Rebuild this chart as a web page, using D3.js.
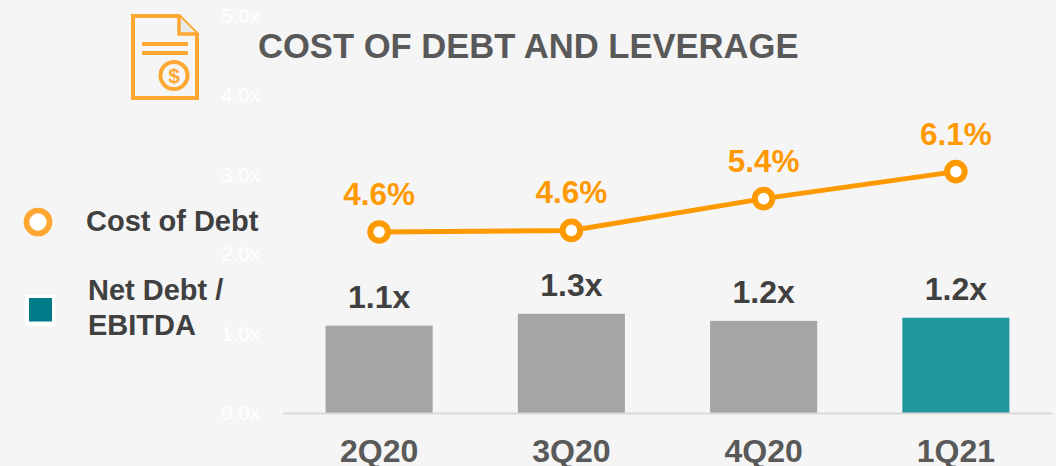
<!DOCTYPE html>
<html>
<head>
<meta charset="utf-8">
<script src="https://cdn.jsdelivr.net/npm/d3@7"></script>
<style>
  html, body { margin: 0; padding: 0; background: #f5f5f5; }
  svg { display: block; }
  text { font-family: "Liberation Sans", Arial, sans-serif; }
</style>
</head>
<body>
<svg id="chart" width="1056" height="466"></svg>
<script>
// values
var quarters = ['2Q20', '3Q20', '4Q20', '1Q21'];
var leverage = [1.1, 1.25, 1.16, 1.2];
var leverageLabels = ['1.1x', '1.3x', '1.2x', '1.2x'];
var costOfDebt = [4.56, 4.6, 5.4, 6.08];
var costLabels = ['4.6%', '4.6%', '5.4%', '6.1%'];
var leverageTicks = [0, 1, 2, 3, 4, 5];

var svg = d3.select('#chart');
var orange = '#fe9900', iconOrange = '#ffa733', teal = '#23979e', grey = '#a5a5a5', dark = '#595959';

var x = d3.scaleBand().domain(quarters).range([283, 1052]).paddingInner(0.443).paddingOuter(0.2215);
var y = d3.scaleLinear().domain([0, 5]).range([413, 16]);
var yCost = d3.scaleLinear().domain([0, 10]).range([413, 16]);
var cx = function (d) { return x(d) + x.bandwidth() / 2; };

// left axis, white on light grey like the original
var yAxis = d3.axisLeft(y).tickValues(leverageTicks).tickSize(0).tickPadding(0)
    .tickFormat(function (d) { return d.toFixed(1) + 'x'; });
var yg = svg.append('g').attr('transform', 'translate(260,0)').call(yAxis);
yg.select('.domain').remove();
yg.selectAll('text').attr('fill', '#ffffff').attr('font-size', 20.5);

// bars
svg.selectAll('rect.bar').data(quarters).enter().append('rect')
    .attr('class', 'bar')
    .attr('x', function (d) { return x(d); })
    .attr('y', function (d, i) { return y(leverage[i]); })
    .attr('width', x.bandwidth())
    .attr('height', function (d, i) { return y(0) - y(leverage[i]); })
    .attr('fill', function (d, i) { return i === 3 ? teal : grey; });

// baseline
svg.append('line').attr('x1', 283).attr('x2', 1052).attr('y1', 413.5).attr('y2', 413.5)
    .attr('stroke', '#d9d9d9').attr('stroke-width', 2);

// category labels
var xAxis = d3.axisBottom(x).tickSize(0).tickPadding(0);
var xg = svg.append('g').attr('transform', 'translate(0,435)').call(xAxis);
xg.select('.domain').remove();
xg.selectAll('text').attr('fill', dark).attr('font-size', 32).attr('font-weight', 'bold').attr('dy', 0).attr('y', 27);

// bar labels
svg.selectAll('text.barlabel').data(quarters).enter().append('text')
    .attr('class', 'barlabel')
    .attr('x', cx)
    .attr('y', function (d, i) { return y(leverage[i]) - 18; })
    .attr('text-anchor', 'middle')
    .attr('font-size', 32).attr('font-weight', 'bold').attr('fill', '#404040')
    .text(function (d, i) { return leverageLabels[i]; });

// cost of debt line
var line = d3.line().x(cx).y(function (d, i) { return yCost(costOfDebt[i]); });
svg.append('path').datum(quarters).attr('d', line)
    .attr('fill', 'none').attr('stroke', orange).attr('stroke-width', 5);
svg.selectAll('circle.pt').data(quarters).enter().append('circle')
    .attr('class', 'pt')
    .attr('cx', cx)
    .attr('cy', function (d, i) { return yCost(costOfDebt[i]); })
    .attr('r', 8.8)
    .attr('fill', '#fff').attr('stroke', orange).attr('stroke-width', 6);
svg.selectAll('text.costlabel').data(quarters).enter().append('text')
    .attr('class', 'costlabel')
    .attr('x', cx)
    .attr('y', function (d, i) { return yCost(costOfDebt[i]) - 27; })
    .attr('text-anchor', 'middle')
    .attr('font-size', 31.5).attr('font-weight', 'bold').attr('fill', orange)
    .text(function (d, i) { return costLabels[i]; });

// title
svg.append('text').attr('x', 258).attr('y', 57.5)
    .attr('font-size', 34.6).attr('font-weight', 'bold').attr('fill', dark)
    .text('COST OF DEBT AND LEVERAGE');

// legend
svg.append('circle').attr('cx', 38).attr('cy', 222).attr('r', 11.5)
    .attr('fill', '#fff').attr('stroke', iconOrange).attr('stroke-width', 5.7);
svg.append('rect').attr('x', 25).attr('y', 295).attr('width', 30.5).attr('height', 31).attr('fill', '#fff');
svg.append('rect').attr('x', 29).attr('y', 298).attr('width', 23).attr('height', 23.5).attr('fill', '#007b87');
svg.append('text').attr('x', 86).attr('y', 231).attr('font-size', 29).attr('font-weight', 'bold').attr('fill', '#404040').text('Cost of Debt');
svg.append('text').attr('x', 88).attr('y', 300).attr('font-size', 29).attr('font-weight', 'bold').attr('fill', '#404040').text('Net Debt /');
svg.append('text').attr('x', 88).attr('y', 335).attr('font-size', 29).attr('font-weight', 'bold').attr('fill', '#404040').text('EBITDA');

// document icon
var icon = svg.append('g').attr('fill', 'none').attr('stroke', iconOrange).attr('stroke-width', 4);
icon.append('path').attr('d', 'M133 16H179L197 34V98H133Z');
icon.append('path').attr('d', 'M179 16V34H197').attr('fill', '#e9e9e9').attr('stroke-width', 3.5);
icon.append('line').attr('x1', 142).attr('x2', 188).attr('y1', 44).attr('y2', 44);
icon.append('line').attr('x1', 142).attr('x2', 188).attr('y1', 53).attr('y2', 53);
icon.append('circle').attr('cx', 174).attr('cy', 75.5).attr('r', 13.5);
svg.append('text').attr('x', 174).attr('y', 83).attr('text-anchor', 'middle')
    .attr('font-size', 21).attr('font-weight', 'bold').attr('fill', iconOrange).text('$');
</script>
</body>
</html>
